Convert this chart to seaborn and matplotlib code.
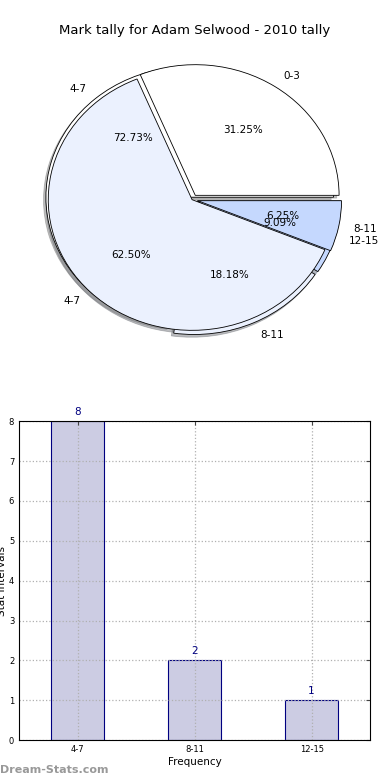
import numpy as np
import pandas as pd
import matplotlib
matplotlib.use('Agg')
import matplotlib.pyplot as plt
import seaborn as sns

# season tally (first pie) and this-year tally (second pie + bars)
season_labels = ['0-3', '4-7', '8-11']
season_counts = [5, 10, 1]

tally_labels = ['4-7', '8-11', '12-15']
tally_counts = [8, 2, 1]

pie_colors = ['white', '#ebf1fe', '#c5d8fe']

sns.set_style('white')
plt.rcParams['font.family'] = ['DejaVu Sans']
plt.rcParams['text.color'] = 'black'
plt.rcParams['axes.labelcolor'] = 'black'
plt.rcParams['xtick.color'] = 'black'
plt.rcParams['ytick.color'] = 'black'

fig = plt.figure(figsize=(3.9, 7.8), dpi=100)
fig.text(0.5, 0.961, 'Mark tally for Adam Selwood - 2010 tally', ha='center', va='center', fontsize=9.5)

# pie part: two pies on the same axes, the second one drawn first
ax1 = fig.add_axes([0.05, 0.543, 0.885, 0.402])
wp = {'edgecolor': 'black', 'linewidth': 0.6}
tp = {'fontsize': 7.5}
shd = {'ox': -0.012, 'oy': -0.015, 'shade': 0.5}
ax1.pie(tally_counts, labels=tally_labels, colors=pie_colors, autopct='%1.2f%%',
        explode=[0.025, 0.035, 0.035], shadow=shd, wedgeprops=wp, textprops=tp)
ax1.pie(season_counts, labels=season_labels, colors=pie_colors, autopct='%1.2f%%',
        explode=[0.04, 0.0, 0.04], shadow=shd, wedgeprops=wp, textprops=tp)
ax1.set_aspect('auto')
ax1.set_xlim(-1.2, 1.2)
ax1.set_ylim(-1.2, 1.2)
ax1.axis('off')

# bar part
ax2 = fig.add_axes([0.049, 0.051, 0.9, 0.409])
df = pd.DataFrame({'interval': tally_labels, 'count': tally_counts})
sns.barplot(data=df, x='interval', y='count', ax=ax2, color='#ccccE3',
            edgecolor='#000080', linewidth=0.8, width=0.45, saturation=1)
ax2.set_xlim(-0.5, 2.5)
ax2.set_ylim(0, 8)
ax2.set_yticks(range(0, 9))
for i, v in enumerate(tally_counts):
    ax2.text(i, v + 0.1, str(v), ha='center', va='bottom', color='#000080', fontsize=7.5)
ax2.grid(True, linestyle=':', color='#b0b0b0', linewidth=0.9)
ax2.set_axisbelow(False)
for p in ax2.patches:
    p.set_zorder(1)
ax2.tick_params(axis='both', labelsize=6, direction='in', length=3, color='#444444')
ax2.tick_params(top=True, right=True)
for s in ax2.spines.values():
    s.set_color('black')
    s.set_linewidth(0.8)
    s.set_zorder(3)
ax2.set_xlabel('Frequency', fontsize=7.5, labelpad=2)
ax2.set_ylabel('Stat Intervals', fontsize=7.5, labelpad=1)

fig.text(0.0, 0.013, 'Dream-Stats.com', ha='left', va='center', fontsize=8,
         color='#999999', fontweight='bold')

fig.savefig('out.png', dpi=100)
